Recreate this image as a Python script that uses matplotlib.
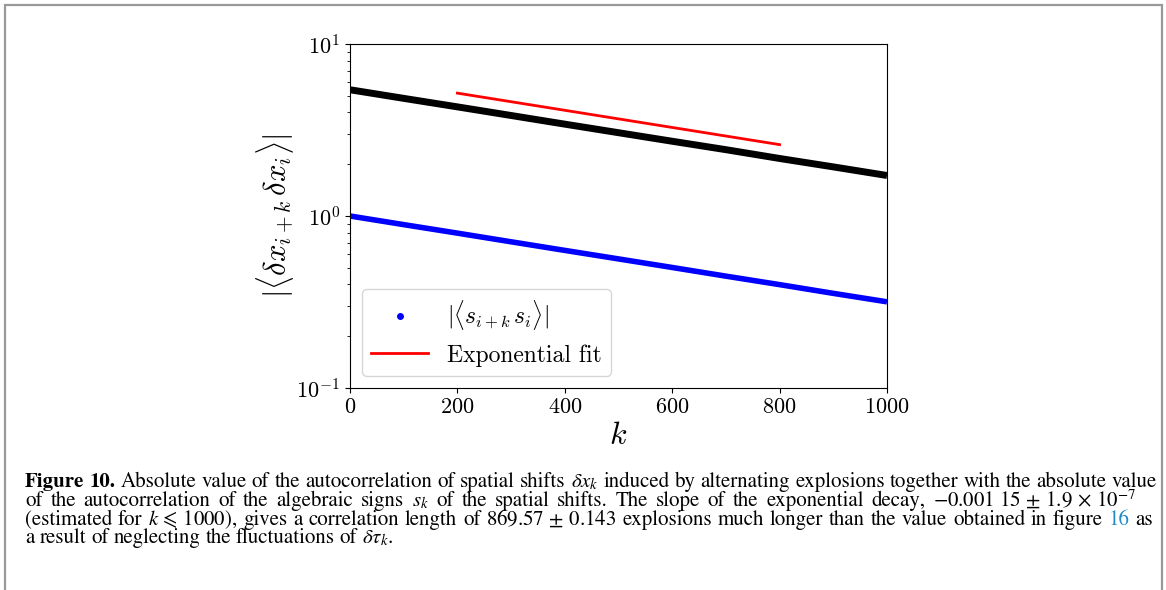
import numpy as np
import matplotlib
matplotlib.use("Agg")
import matplotlib.pyplot as plt
from matplotlib.lines import Line2D
from matplotlib.patches import Rectangle

plt.rcParams['font.family'] = 'serif'
plt.rcParams['font.serif'] = ['cmr10']
plt.rcParams['mathtext.fontset'] = 'cm'
plt.rcParams['axes.formatter.use_mathtext'] = True

# autocorrelations sampled every 100 explosions
k = [0, 100, 200, 300, 400, 500, 600, 700, 800, 900, 1000]
corr_dx = [5.42, 4.83, 4.31, 3.84, 3.42, 3.05, 2.72, 2.43, 2.16, 1.93, 1.72]
corr_sign = [1.00, 0.891, 0.795, 0.708, 0.631, 0.563, 0.502, 0.447, 0.399, 0.355, 0.317]

# exponential fit over 200 <= k <= 800
k_fit = [200, 800]
fit_vals = [5.18, 2.60]

W, H = 1166, 590
fig = plt.figure(figsize=(W / 100, H / 100), dpi=100)
ax = fig.add_axes([350 / W, 1 - 388 / H, 537 / W, 344 / H])

ax.plot(k, corr_dx, color='black', lw=5, solid_capstyle='butt')
ax.plot(k, corr_sign, color='blue', lw=4, solid_capstyle='butt')
ax.plot(k_fit, fit_vals, color='red', lw=2)

ax.set_yscale('log')
ax.set_ylim(0.1, 10)
ax.set_xlim(0, 1000)
ax.set_xticks([0, 200, 400, 600, 800, 1000])
ax.tick_params(labelsize=16)
ax.set_xlabel(r'$k$', fontsize=23, labelpad=4)
ax.set_ylabel(r'$|\langle \delta x_{i+k}\, \delta x_i \rangle|$', fontsize=22, labelpad=0)

handles = [Line2D([], [], ls='', marker='.', color='blue', markersize=8),
           Line2D([], [], color='red', lw=2)]
ax.legend(handles, [r'$|\langle s_{i+k}\, s_i \rangle|$', 'Exponential fit'],
          loc='lower left', fontsize=17, handlelength=2.4)

# page frame
fig.patches.append(Rectangle((5 / W, -0.1), 1157 / W, 1.1 - 5 / H, transform=fig.transFigure,
                             fill=False, edgecolor='#999999', lw=1.6))

# caption, set justified like the journal page
cap_size = 15.0
space = 0.24 * cap_size * 100 / 72
renderer = fig.canvas.get_renderer()


def make_text(s, x=0, y=0, color='black', weight='normal'):
    return fig.text(x / W, 1 - y / H, s, fontsize=cap_size, family='STIXGeneral',
                    math_fontfamily='stix', color=color, weight=weight, va='baseline')


def width_of(s, weight='normal'):
    t = make_text(s, weight=weight)
    w = t.get_window_extent(renderer).width
    t.remove()
    return w


def put_line(y_px, words, x_px=25, right_px=None):
    # words: list of (text, color, weight); gaps between them are stretched when right_px is given
    widths = [width_of(w, wt) for w, c, wt in words]
    gap = space
    if right_px is not None and len(words) > 1:
        gap = (right_px - x_px - sum(widths)) / (len(words) - 1)
    x = x_px
    for (txt, color, weight), w in zip(words, widths):
        make_text(txt, x, y_px, color, weight)
        x += w + gap


def plain(s):
    return [(w, 'black', 'normal') for w in s.split(' ')]


line1 = [('Figure', 'black', 'bold'), ('10.', 'black', 'bold')] + plain(
    'Absolute value of the autocorrelation of spatial shifts') + [(r'$\delta x_k$', 'black', 'normal')] + plain(
    'induced by alternating explosions together with the absolute value')
line2 = plain('of the autocorrelation of the algebraic signs') + [(r'$s_k$', 'black', 'normal')] + plain(
    'of the spatial shifts. The slope of the exponential decay,') + [
    (r'$-0.001\ 15\,\pm\,1.9\,\times\,10^{-7}$', 'black', 'normal')]
line3 = plain('(estimated for') + [(r'$k\,\leqslant\,1000$),', 'black', 'normal')] + plain(
    'gives a correlation length of') + [(r'$869.57\,\pm\,0.143$', 'black', 'normal')] + plain(
    'explosions much longer than the value obtained in figure') + [
    ('16', '#1f8ac4', 'normal'), ('as', 'black', 'normal')]
line4 = plain('a result of neglecting the fluctuations of') + [(r'$\delta\tau_k$.', 'black', 'normal')]

put_line(487, line1, right_px=1157)
put_line(506, line2, right_px=1136)
put_line(525, line3, right_px=1153)
put_line(543, line4)

fig.savefig('out.png', dpi=100)
